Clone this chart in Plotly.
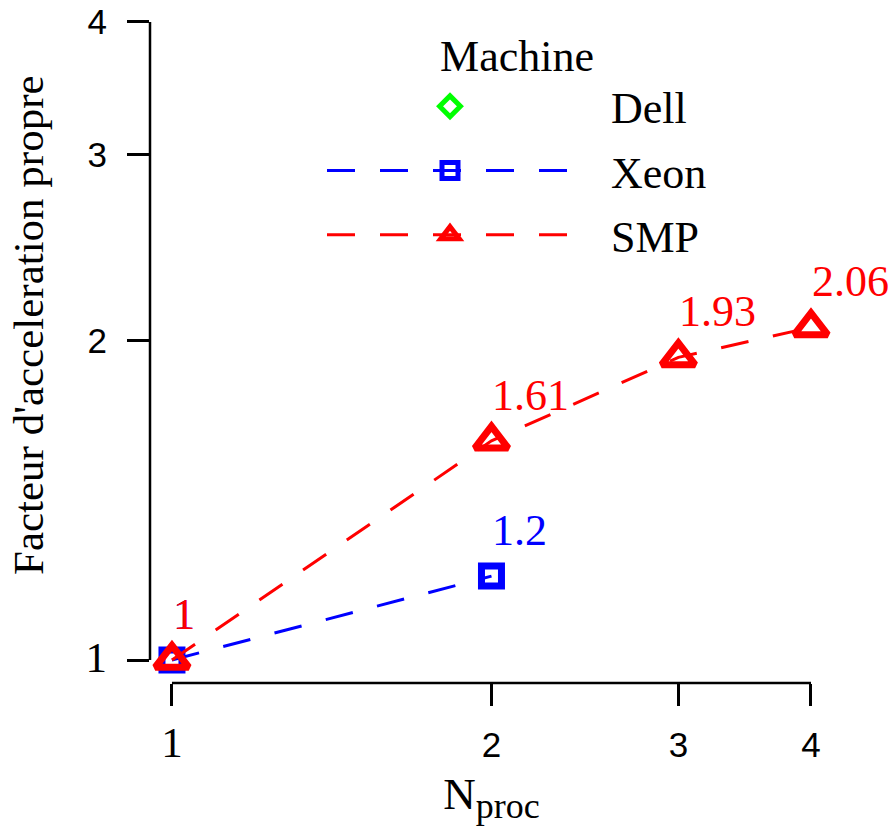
import math
import plotly.graph_objects as go

# ---- data ----
machines = ["Dell", "Xeon", "SMP"]
nproc_dell = [None]
speedup_dell = [None]
nproc_xeon = [1, 2]
speedup_xeon = [1.0, 1.2]
nproc_smp = [1, 2, 3, 4]
speedup_smp = [1.0, 1.61, 1.93, 2.06]
x_ticks = [1, 2, 3, 4]
y_ticks = [1, 2, 3, 4]
y_title = "Facteur d'acceleration propre"
x_title = "N<sub><span style=\"font-size:36px\">proc</span></sub>"

SERIF = "Liberation Serif"
SANS = "Liberation Sans"
PAD = "\u00a0" * 3
BLUE = "#0000FF"
RED = "#FF0000"
GREEN = "#00FF00"


def tick_text(vals):
    out = []
    for v in vals:
        if v == 1:
            out.append('<span style="font-family:Liberation Serif;font-size:43px">%d</span>' % v)
        else:
            out.append(str(v))
    return out


fig = go.Figure()

fig.add_trace(go.Scatter(
    x=nproc_dell, y=speedup_dell, name=PAD + machines[0], mode="markers",
    legendgroup="a",
    marker=dict(symbol="diamond-open", size=18, color=GREEN,
                line=dict(width=5, color=GREEN)),
))
fig.add_trace(go.Scatter(
    x=nproc_xeon, y=speedup_xeon, name=PAD + machines[1], mode="lines+markers",
    legendgroup="b",
    line=dict(color=BLUE, width=3, dash="28px,25px"),
    marker=dict(symbol="square-open", size=20, color=BLUE,
                line=dict(width=7, color=BLUE)),
))
fig.add_trace(go.Scatter(
    x=nproc_smp, y=speedup_smp, name=PAD + machines[2], mode="lines+markers",
    legendgroup="c",
    line=dict(color=RED, width=3, dash="28px,25px"),
    marker=dict(symbol="triangle-up-open", size=29, color=RED,
                line=dict(width=7, color=RED)),
))

# value labels next to each point (log axes: annotation coords in log10)
for xs, ys, col in [(nproc_xeon, speedup_xeon, BLUE), (nproc_smp, speedup_smp, RED)]:
    for xv, yv in zip(xs, ys):
        fig.add_annotation(
            x=math.log10(xv), y=math.log10(yv), xref="x", yref="y",
            text=f"{yv:g}", showarrow=False, xanchor="left", yanchor="bottom",
            xshift=-1, yshift=19, font=dict(family=SERIF, size=44, color=col),
        )

# y axis title (R mtext style)
fig.add_annotation(
    x=(28 - 150) / 683, y=(683 - 325) / 683, xref="paper", yref="paper",
    text=y_title, textangle=-90, showarrow=False, xanchor="center", yanchor="middle",
    font=dict(family=SERIF, size=43, color="black"),
)

# R-style axis lines spanning only the tick range
fig.add_shape(type="line", xref="x", yref="paper", x0=x_ticks[0], x1=x_ticks[-1],
              y0=0, y1=0, line=dict(color="black", width=2.5))
fig.add_shape(type="line", xref="paper", yref="y", x0=0, x1=0,
              y0=y_ticks[0], y1=y_ticks[-1], line=dict(color="black", width=2.5))

fig.update_layout(
    width=893, height=834,
    margin=dict(l=150, r=60, t=0, b=151),
    paper_bgcolor="white", plot_bgcolor="white",
    font=dict(family=SERIF, size=44, color="black"),
    showlegend=True,
    legend=dict(
        x=(322 - 150) / 683, y=1 - 14 / 683, xanchor="left", yanchor="top",
        bgcolor="rgba(0,0,0,0)", itemwidth=246, traceorder="grouped",
        tracegroupgap=4,
        title=dict(text="Machine", side="top center", font=dict(family=SERIF, size=44)),
        font=dict(family=SERIF, size=44),
    ),
    xaxis=dict(
        type="log", range=[-0.0207, 0.6228], showgrid=False, zeroline=False,
        showline=False, ticks="outside", ticklen=22, tickwidth=2.5, tickcolor="black",
        tickmode="array", tickvals=x_ticks, ticktext=tick_text(x_ticks),
        tickfont=dict(family=SANS, size=35), ticklabelstandoff=9,
        title=dict(text=x_title, font=dict(family=SERIF, size=45), standoff=12),
    ),
    yaxis=dict(
        type="log", range=[-0.0217, 0.6228], showgrid=False, zeroline=False,
        showline=False, ticks="outside", ticklen=22, tickwidth=2.5, tickcolor="black",
        tickmode="array", tickvals=y_ticks, ticktext=tick_text(y_ticks),
        tickfont=dict(family=SANS, size=35), ticklabelstandoff=13,
    ),
)

fig.write_html("out.html")
